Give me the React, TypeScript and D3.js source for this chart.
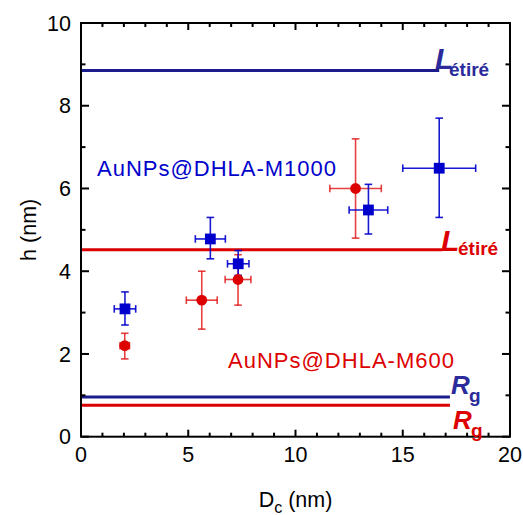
import React from "react";
import * as d3 from "d3";

// M1000 (blue squares)
const m1000X = [2.05, 6.03, 7.33, 13.4, 16.7];
const m1000H = [3.09, 4.78, 4.18, 5.48, 6.49];
const m1000XErr = [0.5, 0.7, 0.5, 0.9, 1.7];
const m1000HTop = [3.5, 5.3, 4.5, 6.1, 7.7];
const m1000HBot = [2.7, 4.3, 3.9, 4.9, 5.3];

// M600 (red circles)
const m600X = [2.04, 5.63, 7.32, 12.8];
const m600H = [2.2, 3.3, 3.8, 6.0];
const m600XErr = [0.22, 0.72, 0.6, 1.2];
const m600HTop = [2.5, 4.0, 4.4, 7.2];
const m600HBot = [1.88, 2.6, 3.18, 4.8];

// reference lines: [h, end x]
const lEtireBlue = [8.85, 16.7];
const lEtireRed = [4.52, 16.85];
const rgBlue = [0.96, 17.2];
const rgRed = [0.76, 17.2];

const xTicksMajor = [0, 5, 10, 15, 20];
const yTicksMajor = [0, 2, 4, 6, 8, 10];

const BLUE = "#0000cc";
const NAVY = "#1c1c8c";
const LBLUE = "#2b2b9b";
const RED = "#dd0000";
const FONT = "Liberation Sans, Arial, sans-serif";

export default function App() {
  const W = 523, H = 515;
  const x = d3.scaleLinear().domain([0, 20]).range([81, 510]);
  const y = d3.scaleLinear().domain([0, 10]).range([436.7, 23]);
  const x0 = x.range()[0], x1 = x.range()[1];
  const y0 = y.range()[0], y1 = y.range()[1];
  const xMinor = d3.range(0, 21, 1).filter((v) => v % 5 !== 0);
  const yMinor = d3.range(0, 11, 1).filter((v) => v % 2 !== 0);
  const cap = 3.8;

  const errBars = (
    xs: number[], hs: number[], xe: number[], ht: number[], hb: number[], color: string, op: number
  ) =>
    xs.map((xv, i) => {
      const cx = x(xv), cy = y(hs[i]);
      const xl = x(xv - xe[i]), xr = x(xv + xe[i]);
      const yt = y(ht[i]), yb = y(hb[i]);
      return (
        <g key={i} stroke={color} strokeWidth={1.6} strokeOpacity={op}>
          <line x1={xl} x2={xr} y1={cy} y2={cy} />
          <line x1={cx} x2={cx} y1={yt} y2={yb} />
          <line x1={xl} x2={xl} y1={cy - cap} y2={cy + cap} />
          <line x1={xr} x2={xr} y1={cy - cap} y2={cy + cap} />
          <line x1={cx - cap} x2={cx + cap} y1={yt} y2={yt} />
          <line x1={cx - cap} x2={cx + cap} y1={yb} y2={yb} />
        </g>
      );
    });

  return (
    <svg width={W} height={H} style={{ position: "absolute", left: 0, top: 0, background: "#fff" }} fontFamily={FONT}>
      {/* reference lines */}
      <line x1={x(0)} x2={x(lEtireBlue[1])} y1={y(lEtireBlue[0])} y2={y(lEtireBlue[0])} stroke={NAVY} strokeWidth={3} />
      <line x1={x(0)} x2={x(lEtireRed[1])} y1={y(lEtireRed[0])} y2={y(lEtireRed[0])} stroke={RED} strokeWidth={3} />
      <line x1={x(0)} x2={x(rgBlue[1])} y1={y(rgBlue[0])} y2={y(rgBlue[0])} stroke={NAVY} strokeWidth={3} />
      <line x1={x(0)} x2={x(rgRed[1])} y1={y(rgRed[0])} y2={y(rgRed[0])} stroke={RED} strokeWidth={3} />

      {/* error bars */}
      {errBars(m600X, m600H, m600XErr, m600HTop, m600HBot, RED, 0.75)}
      {errBars(m1000X, m1000H, m1000XErr, m1000HTop, m1000HBot, BLUE, 0.9)}

      {/* markers */}
      {m600X.map((xv, i) => (
        <circle key={"c" + i} cx={x(xv)} cy={y(m600H[i])} r={5.4} fill={RED} />
      ))}
      {m1000X.map((xv, i) => (
        <rect key={"s" + i} x={x(xv) - 5.4} y={y(m1000H[i]) - 5.4} width={10.8} height={10.8} fill={BLUE} />
      ))}

      {/* frame */}
      <rect x={x0} y={y1} width={x1 - x0} height={y0 - y1} fill="none" stroke="#000" strokeWidth={2} />
      {xTicksMajor.map((v) => (
        <g key={"xt" + v} stroke="#000" strokeWidth={2}>
          <line x1={x(v)} x2={x(v)} y1={y0} y2={y0 - 7} />
          <line x1={x(v)} x2={x(v)} y1={y1} y2={y1 + 7} />
        </g>
      ))}
      {xMinor.map((v) => (
        <g key={"xm" + v} stroke="#000" strokeWidth={2}>
          <line x1={x(v)} x2={x(v)} y1={y0} y2={y0 - 4} />
          <line x1={x(v)} x2={x(v)} y1={y1} y2={y1 + 4} />
        </g>
      ))}
      {yTicksMajor.map((v) => (
        <g key={"yt" + v} stroke="#000" strokeWidth={2}>
          <line x1={x0} x2={x0 + 8} y1={y(v)} y2={y(v)} />
          <line x1={x1} x2={x1 - 8} y1={y(v)} y2={y(v)} />
        </g>
      ))}
      {yMinor.map((v) => (
        <g key={"ym" + v} stroke="#000" strokeWidth={2}>
          <line x1={x0} x2={x0 + 4.5} y1={y(v)} y2={y(v)} />
          <line x1={x1} x2={x1 - 4.5} y1={y(v)} y2={y(v)} />
        </g>
      ))}

      {/* tick labels */}
      {xTicksMajor.map((v) => (
        <text key={"xl" + v} x={x(v)} y={461.7} textAnchor="middle" fontSize={21.5} fill="#000">
          {v}
        </text>
      ))}
      {yTicksMajor.map((v) => (
        <text key={"yl" + v} x={71} y={y(v) + 7.6} textAnchor="end" fontSize={21.5} fill="#000">
          {v}
        </text>
      ))}

      {/* axis titles */}
      <text x={(x0 + x1) / 2} y={507} textAnchor="middle" fontSize={21.5} fill="#000">
        D<tspan fontSize={16} dy={6}>c</tspan>
        <tspan dy={-6}> (nm)</tspan>
      </text>
      <text transform={`translate(36,${(y0 + y1) / 2}) rotate(-90)`} textAnchor="middle" fontSize={21.5} fill="#000">
        h (nm)
      </text>

      {/* series labels */}
      <text x={97} y={175.7} fontSize={22} fill={BLUE} textLength={239} lengthAdjust="spacing">
        AuNPs@DHLA-M1000
      </text>
      <text x={228} y={368} fontSize={22} fill={RED} textLength={226} lengthAdjust="spacing">
        AuNPs@DHLA-M600
      </text>

      {/* line labels */}
      <text x={435} y={69} fontSize={30} fontWeight="bold" fontStyle="italic" fill={LBLUE}>
        L<tspan x={449} y={76} fontSize={19} fontStyle="normal">étiré</tspan>
      </text>
      <text x={441} y={250.5} fontSize={30} fontWeight="bold" fontStyle="italic" fill={RED}>
        L<tspan x={458} y={255} fontSize={19} fontStyle="normal">étiré</tspan>
      </text>
      <text x={451} y={393.5} fontSize={26} fontWeight="bold" fontStyle="italic" fill={LBLUE}>
        R<tspan x={469} y={402} fontSize={19} fontStyle="normal">g</tspan>
      </text>
      <text x={453} y={428.5} fontSize={26} fontWeight="bold" fontStyle="italic" fill={RED}>
        R<tspan x={471} y={437} fontSize={19} fontStyle="normal">g</tspan>
      </text>
    </svg>
  );
}
